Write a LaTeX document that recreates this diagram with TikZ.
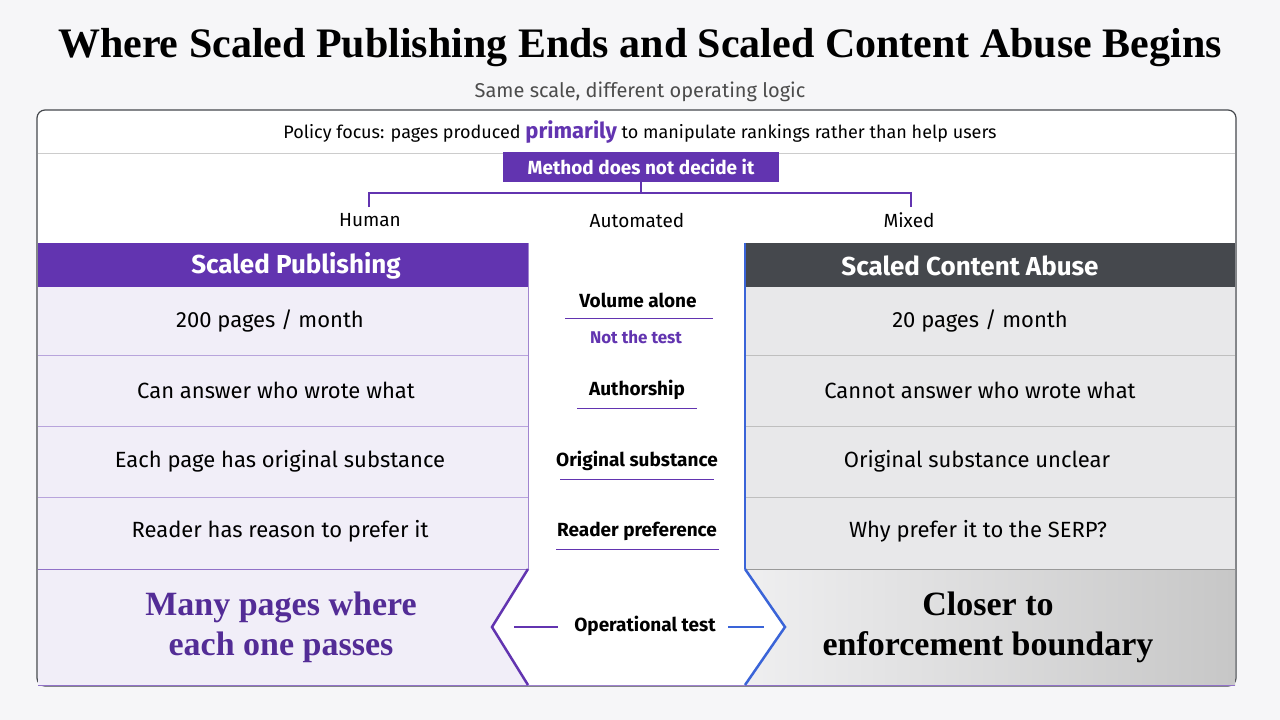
\documentclass[tikz,border=0pt]{standalone}
\usepackage{fontspec}
\setmainfont{Fira Sans}
\newfontfamily\ser{Liberation Serif}
\begin{document}
\begin{tikzpicture}[x=1pt,y=-1pt,
  txt/.style={font=\fontsize{22}{26}\selectfont,text=black},
  mid/.style={font=\fontsize{19}{22}\selectfont\bfseries,text=black},
  hdr/.style={font=\fontsize{26}{30}\selectfont\bfseries,text=white},
  big/.style={font=\fontsize{34}{40}\selectfont\ser\bfseries,align=center}]
\definecolor{pur}{HTML}{6234B0}
\definecolor{dgray}{HTML}{45484D}
\definecolor{lav}{HTML}{F1EEF8}
\definecolor{lgray}{HTML}{E8E8EA}
\definecolor{blu}{HTML}{3A64D8}
\definecolor{bg}{HTML}{F6F6F8}
\fill[bg] (0,0) rectangle (1280,720);
\useasboundingbox (0,0) rectangle (1280,720);
\node[font=\fontsize{42}{46}\selectfont\ser\bfseries] (title) at (640,48) {Where Scaled Publishing Ends and Scaled Content Abuse Begins};
\node[font=\fontsize{20}{24}\selectfont,text=black!70] (sub) at (640,92) {Same scale, different operating logic};
\draw[fill=white,draw=dgray,rounded corners=8,line width=1.2] (37,110) rectangle (1236,686);
\node[font=\fontsize{18}{20}\selectfont] (pol) at (640,132) {Policy focus: pages produced {\fontsize{22}{24}\selectfont\bfseries\color{pur}primarily} to manipulate rankings rather than help users};
\draw[black!20,line width=1] (38,153) -- (1235,153);
\node[fill=pur,text=white,font=\fontsize{19}{22}\selectfont\bfseries,minimum width=276,minimum height=30,inner sep=0] (meth) at (641,167) {Method does not decide it};
\draw[pur,line width=1.2] (meth.south) -- (641,193) (369,207) -- (369,193) -- (911,193) -- (911,207);
\node[font=\fontsize{19}{22}\selectfont] (hum) at (370,220) {Human};
\node[font=\fontsize{19}{22}\selectfont] (aut) at (637,220) {Automated};
\node[font=\fontsize{19}{22}\selectfont] (mix) at (909,220) {Mixed};
% headers
\fill[pur] (38,243) rectangle (528,287);
\fill[dgray] (745,243) rectangle (1235,287);
\node[hdr] (h1) at (296,266) {Scaled Publishing};
\node[hdr] (h2) at (970,266) {Scaled Content Abuse};
% cells
\fill[lav] (38,287) rectangle (528,569);
\fill[lgray] (745,287) rectangle (1235,569);
\fill[lav] (38,569) rectangle (528,685);
\shade[left color=lgray!70,right color=black!22] (745,569) rectangle (1235,685);
\foreach \y in {355,426,497}{\draw[pur!45,line width=1] (38,\y) -- (528,\y); \draw[black!25,line width=1] (745,\y) -- (1235,\y);}
\draw[pur!70,line width=1] (38,569) -- (528,569);
\draw[black!40,line width=1] (745,569) -- (1235,569);
\draw[pur!70,line width=1] (38,685) -- (1235,685);
\draw[pur!60,line width=1] (528,243) -- (528,569);
\draw[blu,line width=2] (745,243) -- (745,569);
% hexagon
\fill[white] (528,569) -- (745,569) -- (785,627) -- (745,685) -- (528,685) -- (492,627) -- cycle;
\draw[pur,line width=2.5] (528,569) -- (492,627) -- (528,685);
\draw[blu,line width=2.5] (745,569) -- (785,627) -- (745,685);
\node[mid] (op) at (645,626) {Operational test};
\draw[pur,line width=1.2] (514,627) -- (558,627);
\draw[blu,line width=1.2] (728,627) -- (764,627);
% texts
\node[txt] (l1) at (270,321) {200 pages / month};
\node[txt] (l2) at (276,390) {Can answer who wrote what};
\node[txt] (l3) at (280,461) {Each page has original substance};
\node[txt] (l4) at (280,531) {Reader has reason to prefer it};
\node[txt] (r1) at (980,321) {20 pages / month};
\node[txt] (r2) at (980,390) {Cannot answer who wrote what};
\node[txt] (r3) at (977,461) {Original substance unclear};
\node[txt] (r4) at (978,531) {Why prefer it to the SERP?};
\node[big,text=pur!85!black] (lb) at (281,627) {Many pages where\\each one passes};
\node[big,text=black] (rb) at (988,627) {Closer to\\enforcement boundary};
% middle
\node[mid] (m1) at (638,300) {Volume alone};
\draw[pur,line width=1] (565,318) -- (713,318);
\node[font=\fontsize{17}{20}\selectfont\bfseries,text=pur] (m1b) at (636,337) {Not the test};
\node[mid] (m2) at (637,390) {Authorship};
\draw[pur,line width=1] (577,408) -- (697,408);
\node[mid] (m3) at (637,461) {Original substance};
\draw[pur,line width=1] (560,479) -- (714,479);
\node[mid] (m4) at (637,531) {Reader preference};
\draw[pur,line width=1] (556,549) -- (719,549);
\end{tikzpicture}
\end{document}
